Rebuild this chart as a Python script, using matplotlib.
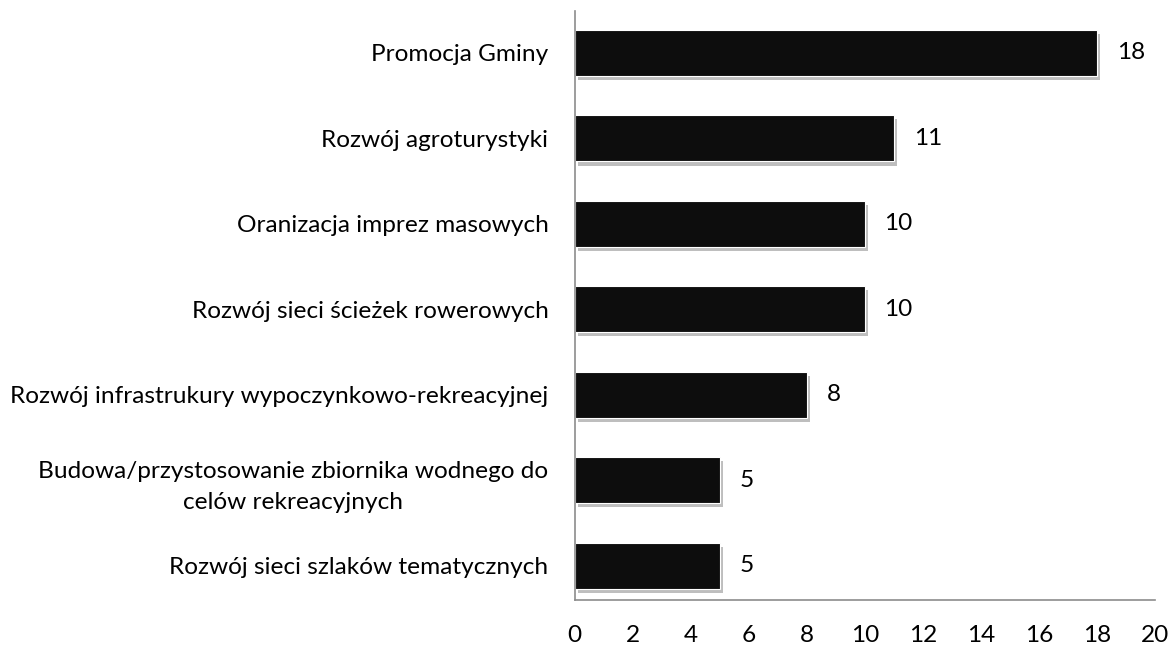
import matplotlib.pyplot as plt
import matplotlib.patheffects as pe

categories = [
    "Promocja Gminy",
    "Rozwój agroturystyki",
    "Oranizacja imprez masowych",
    "Rozwój sieci ścieżek rowerowych",
    "Rozwój infrastrukury wypoczynkowo-rekreacyjnej",
    "Budowa/przystosowanie zbiornika wodnego do\ncelów rekreacyjnych",
    "Rozwój sieci szlaków tematycznych",
]
values = [18, 11, 10, 10, 8, 5, 5]
xticks = list(range(0, 21, 2))

plt.rcParams["font.family"] = ["Lato", "DejaVu Sans"]
FS = 17.6

fig = plt.figure(figsize=(11.73, 6.45), dpi=100)
ax = fig.add_axes([0.490, 0.070, 0.495, 0.913])

pos = list(range(len(categories)))
bars = ax.barh(pos, values, height=0.54, color="#0d0d0d", edgecolor="white", linewidth=0.8)
for b in bars:
    b.set_path_effects([
        pe.SimplePatchShadow(offset=(2, -3), shadow_rgbFace="#8a8a8a", alpha=0.55),
        pe.Normal(),
    ])

for p, v in zip(pos, values):
    ax.annotate(str(v), (v, p), xytext=(14, 0), textcoords="offset points",
                va="center", ha="left", fontsize=FS)

ax.set_xlim(0, 20)
ax.set_ylim(6.4, -0.49)
ax.set_xticks(xticks)
ax.set_xticklabels([str(t) for t in xticks], fontsize=FS)
ax.set_yticks(pos)
ax.set_yticklabels(categories, fontsize=FS, multialignment="center", linespacing=1.55)
ax.tick_params(axis="both", length=0)
ax.tick_params(axis="x", pad=18)
ax.tick_params(axis="y", pad=19)

for s in ["top", "right"]:
    ax.spines[s].set_visible(False)
for s in ["left", "bottom"]:
    ax.spines[s].set_color("#8c8c8c")
    ax.spines[s].set_linewidth(1.2)

fig.savefig("out.png", dpi=100)
